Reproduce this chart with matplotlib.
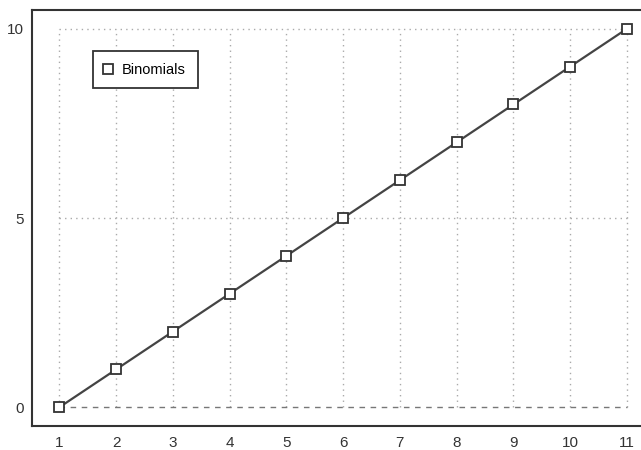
import matplotlib
matplotlib.use("Agg")
import matplotlib.pyplot as plt

# data
n_values = [1, 2, 3, 4, 5, 6, 7, 8, 9, 10, 11]
binomials = [0, 1, 2, 3, 4, 5, 6, 7, 8, 9, 10]
x_ticks = [1, 2, 3, 4, 5, 6, 7, 8, 9, 10, 11]
y_ticks = [0, 5, 10]

plt.rcParams['font.family'] = ['Liberation Sans', 'DejaVu Sans']

fig = plt.figure(figsize=(6.41, 4.5), dpi=100)
# right edge of the frame falls outside the picture
ax = fig.add_axes([32/641, 24/450, 620/641, 416/450])

# grid, only inside the data range
grid_col = '#aaaaaa'
ax.vlines(x_ticks, min(y_ticks), max(y_ticks), colors=grid_col, linestyles=(0, (1, 3)), linewidth=1)
for yv in y_ticks:
    ls = (0, (4, 4)) if yv == 0 else (0, (1, 3))
    c = '#777777' if yv == 0 else grid_col
    ax.hlines(yv, min(x_ticks), max(x_ticks), colors=c, linestyles=ls, linewidth=1)

ax.plot(n_values, binomials, color='#444444', linewidth=1.6, marker='s',
        markersize=7, markerfacecolor='white', markeredgecolor='#333333',
        markeredgewidth=1.3, label='Binomials', zorder=3)

ax.set_xlim(0.519, 0.519 + 620/56.77)
ax.set_ylim(-0.494, 10.494)
ax.set_xticks(x_ticks)
ax.set_yticks(y_ticks)
ax.tick_params(length=0, labelsize=11, colors='#333333')
ax.tick_params(axis='x', pad=7)
ax.tick_params(axis='y', pad=6)

for s in ['left', 'bottom', 'top', 'right']:
    ax.spines[s].set_color('#333333')
    ax.spines[s].set_linewidth(1.5)

leg = ax.legend(loc='upper left', bbox_to_anchor=((93-32)/620, (426-51)/416), borderaxespad=0,
                fancybox=False, framealpha=1, edgecolor='#333333', fontsize=10.5,
                handlelength=0.5, handletextpad=0.7, borderpad=0.8)
leg.get_frame().set_linewidth(1.3)
leg.legend_handles[0].set_linestyle('None')

fig.savefig('out.png', dpi=100)
